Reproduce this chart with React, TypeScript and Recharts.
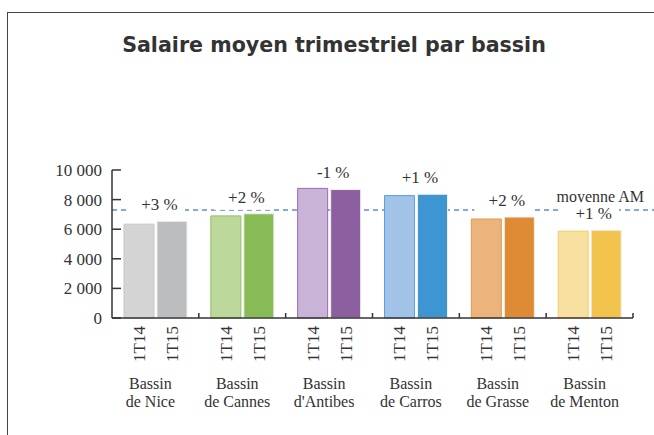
import { Bar, BarChart, Cell, LabelList, ReferenceLine, XAxis, YAxis } from "recharts";

const BASSINS = [
  "Bassin de Nice",
  "Bassin de Cannes",
  "Bassin d'Antibes",
  "Bassin de Carros",
  "Bassin de Grasse",
  "Bassin de Menton",
];
const SALAIRE_1T14 = [6340, 6900, 8760, 8270, 6690, 5870];
const SALAIRE_1T15 = [6530, 7040, 8680, 8360, 6820, 5930];
const EVOLUTION = ["+3 %", "+2 %", "-1 %", "+1 %", "+2 %", "+1 %"];
const PERIODES = ["1T14", "1T15"];
const MOYENNE_AM = 7300;
const Y_TICKS = [0, 2000, 4000, 6000, 8000, 10000];

// one colour per bassin, light shade for 1T14, full shade for 1T15
const FOND_1T14 = ["#d3d4d3", "#bcd99b", "#c9b4d7", "#a2c3e7", "#ecb47c", "#f8e0a0"];
const BORD_1T14 = ["#c4c5c4", "#8cc060", "#9a68b0", "#5b9fdc", "#e09a50", "#f2cd6a"];
const FOND_1T15 = ["#bcbdbf", "#86bb55", "#8c5fa1", "#3d95d2", "#df8a34", "#f2c44e"];

const data = BASSINS.map((bassin, i) => ({
  bassin,
  t14: SALAIRE_1T14[i],
  t15: SALAIRE_1T15[i],
  evol: EVOLUTION[i],
}));

const SERIF = '"Liberation Serif", "Times New Roman", serif';
const INK = "#333";

const fmt = (v: number) => String(v).replace(/\B(?=(\d{3})+(?!\d))/g, " ");

function YTick({ x, y, payload }: any) {
  return (
    <g>
      <line x1={x + 10} x2={x + 19} y1={y} y2={y} stroke={INK} strokeWidth={1.5} />
      <text x={x} y={y} dy="0.35em" textAnchor="end" fontSize={17} fontFamily={SERIF} fill={INK}>
        {fmt(payload.value)}
      </text>
    </g>
  );
}

function XTick({ x, y, payload }: any) {
  const edge = x + (payload.offset ?? 0);
  const [first, ...rest] = String(payload.value).split(" ");
  const cx = x - 5;
  return (
    <g>
      <line x1={edge} x2={edge} y1={y} y2={y - 5} stroke={INK} strokeWidth={1.5} />
      <text x={cx} y={y + 71} textAnchor="middle" fontSize={16} fontFamily={SERIF} fill={INK}>
        {first}
      </text>
      <text x={cx} y={y + 89} textAnchor="middle" fontSize={16} fontFamily={SERIF} fill={INK}>
        {rest.join(" ")}
      </text>
    </g>
  );
}

const periodLabel = (i: number) => (props: any) => {
  const cx = Number(props.x) + Number(props.width) / 2;
  const y0 = Number(props.y) + Number(props.height) + 8;
  return (
    <text
      x={cx}
      y={y0}
      dy="0.35em"
      transform={`rotate(-90 ${cx} ${y0})`}
      textAnchor="end"
      fontSize={17}
      fontFamily={SERIF}
      fill={INK}
    >
      {PERIODES[i]}
    </text>
  );
};

function EvolLabel(props: any) {
  const x = Number(props.x);
  const cy = Number(props.y) - 17;
  return (
    <g>
      <rect x={x - 30} y={cy - 11} width={58} height={24} fill="#fff" />
      <text x={x + 2.5} y={cy} dy="0.35em" textAnchor="middle" fontSize={17} fontFamily={SERIF} fill={INK}>
        {props.value}
      </text>
    </g>
  );
}

function MeanLine(props: any) {
  const { x1, y1, x2 } = props;
  return (
    <g>
      <line x1={x1} y1={y1} x2={x2 + 21} y2={y1} stroke="#5b8fd0" strokeWidth={1.5} strokeDasharray="5 4" />
      <text x={x2 + 11} y={y1 - 8} textAnchor="end" fontSize={16} fontFamily={SERIF} fill={INK}>
        moyenne AM
      </text>
    </g>
  );
}

export default function App() {
  return (
    <div style={{ position: "relative", width: 654, height: 435, overflow: "hidden", background: "#fff" }}>
      <style>{"body{margin:0}"}</style>
      <div
        style={{
          position: "absolute",
          left: 7,
          top: 12,
          width: 700,
          height: 500,
          border: "1.5px solid #444",
        }}
      />
      <div
        style={{
          position: "absolute",
          left: 7,
          top: 33,
          width: 654,
          textAlign: "center",
          fontFamily: '"DejaVu Sans", sans-serif',
          fontWeight: "bold",
          fontSize: 20.6,
          lineHeight: "24px",
          color: INK,
        }}
      >
        Salaire moyen trimestriel par bassin
      </div>
      <div style={{ position: "absolute", left: 0, top: 0 }}>
        <BarChart
          width={654}
          height={435}
          data={data}
          margin={{ top: 170, right: 21, bottom: 0, left: 52 }}
          barSize={30}
          barGap={3}
        >
          <XAxis
            dataKey="bassin"
            height={117}
            axisLine={{ stroke: INK, strokeWidth: 1.5 }}
            tickLine={false}
            tickSize={0}
            tickMargin={0}
            tick={<XTick />}
            interval={0}
          />
          <YAxis
            width={60}
            domain={[0, 10000]}
            ticks={Y_TICKS}
            axisLine={{ stroke: INK, strokeWidth: 1.5 }}
            tickLine={false}
            tickSize={0}
            tickMargin={10}
            tick={<YTick />}
          />
          <ReferenceLine y={MOYENNE_AM} shape={MeanLine} zIndex={-10} ifOverflow="visible" />
          <Bar dataKey="t14" isAnimationActive={false}>
            {data.map((_, i) => (
              <Cell key={i} fill={FOND_1T14[i]} stroke={BORD_1T14[i]} strokeWidth={1} />
            ))}
            <LabelList dataKey="t14" content={periodLabel(0)} />
          </Bar>
          <Bar dataKey="t15" isAnimationActive={false}>
            {data.map((_, i) => (
              <Cell key={i} fill={FOND_1T15[i]} stroke="#eeeeee" strokeWidth={1} />
            ))}
            <LabelList dataKey="t15" content={periodLabel(1)} />
            <LabelList dataKey="evol" content={EvolLabel} />
          </Bar>
        </BarChart>
      </div>
    </div>
  );
}
